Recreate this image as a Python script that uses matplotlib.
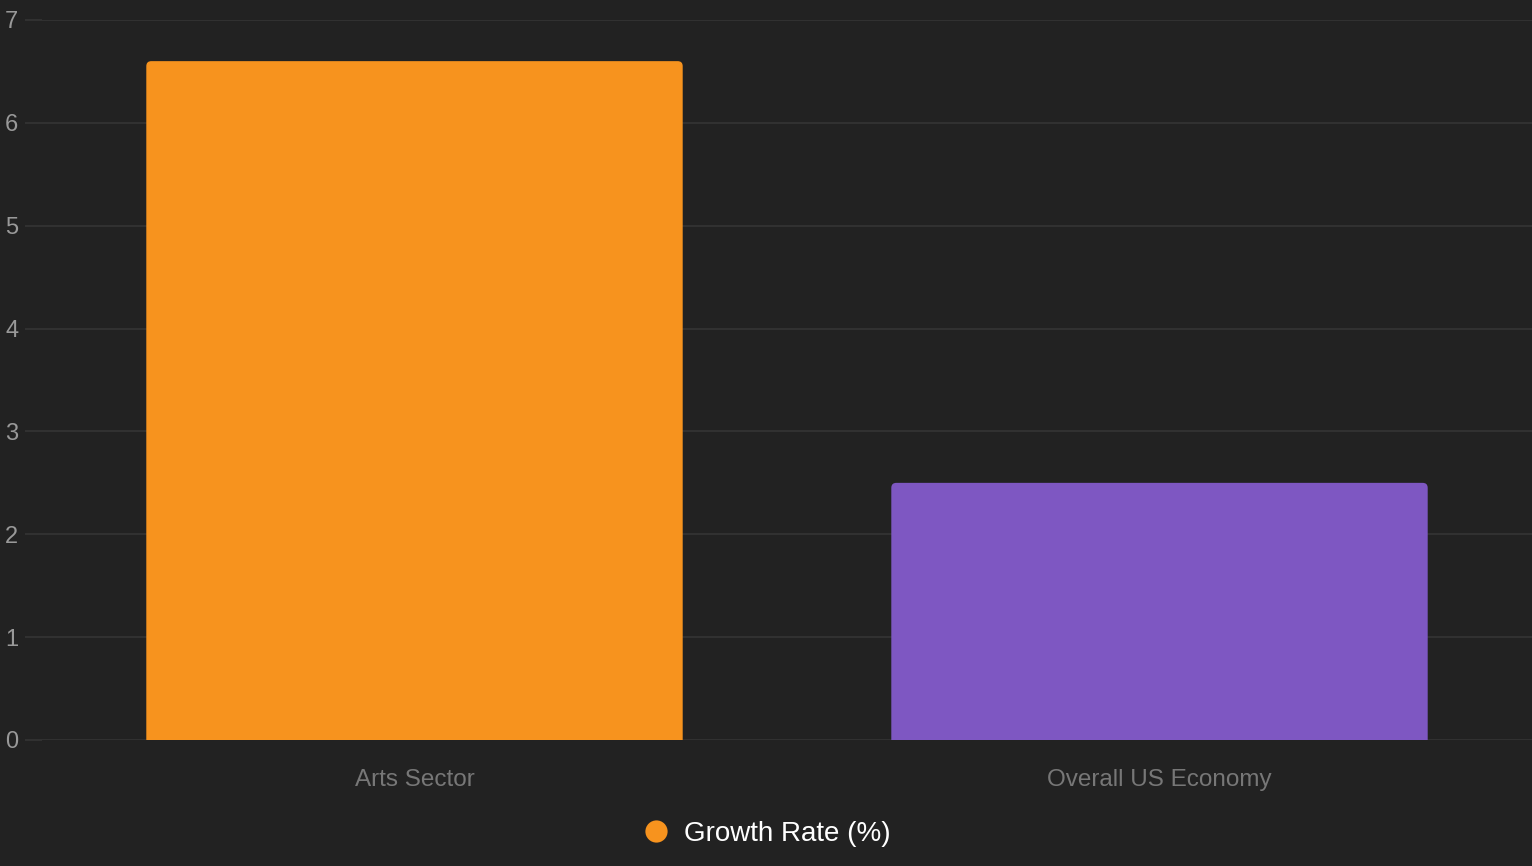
import matplotlib.pyplot as plt
from matplotlib.patches import FancyBboxPatch
from matplotlib.lines import Line2D

categories = ["Arts Sector", "Overall US Economy"]
growth_rate = [6.6, 2.5]
bar_colors = ["#F7931E", "#7E57C2"]
y_ticks = [0, 1, 2, 3, 4, 5, 6, 7]

plt.rcParams['font.family'] = ['Liberation Sans', 'DejaVu Sans']

bg = "#222222"
fig = plt.figure(figsize=(15.32, 8.66), dpi=100, facecolor=bg)
ax = fig.add_axes([42 / 1532, 126 / 866, 1490 / 1532, 720 / 866])
ax.set_facecolor(bg)

x = range(len(categories))
bars = ax.bar(x, growth_rate, width=0.72, color=bar_colors)
ax.set_xlim(-0.5, len(categories) - 0.5)
ax.set_ylim(0, 7)

# swap plain bars for rounded-top versions
px_x = 1490 / len(categories)
px_y = 720 / 7
rad = 5 / px_x
for b in bars:
    b.set_visible(False)
    p = FancyBboxPatch((b.get_x(), b.get_y() - 0.2), b.get_width(), b.get_height() + 0.2,
                       boxstyle=f"round,pad=0,rounding_size={rad}",
                       mutation_aspect=px_x / px_y,
                       facecolor=b.get_facecolor(), edgecolor="none", zorder=3)
    ax.add_patch(p)

ax.set_yticks(y_ticks)
ax.grid(axis="y", color="#333333", linewidth=1.3, zorder=0)
ax.set_xticks(list(x))
ax.set_xticklabels(categories)
for s in ax.spines.values():
    s.set_visible(False)
ax.tick_params(axis="y", colors="#333333", labelcolor="#999999", labelsize=17, length=12, width=1.3, pad=5)
ax.tick_params(axis="x", labelcolor="#777777", labelsize=17.5, length=0, pad=21)

handle = Line2D([], [], marker="o", linestyle="none", markersize=16,
                markerfacecolor=bar_colors[0], markeredgecolor="none")
fig.legend([handle], ["Growth Rate (%)"], loc="center", bbox_to_anchor=(765 / 1532, 1 - 834 / 866),
           frameon=False, fontsize=20, labelcolor="white", handletextpad=0.4, handlelength=1.2)

plt.savefig("out.png", dpi=100, facecolor=bg)
